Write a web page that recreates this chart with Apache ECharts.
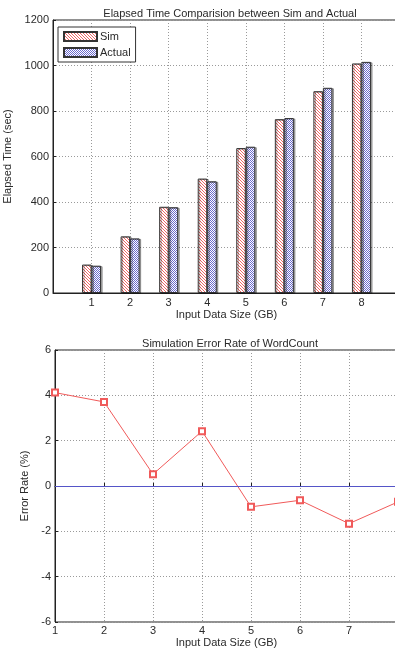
<!DOCTYPE html>
<html>
<head>
<meta charset="utf-8">
<script src="https://cdn.jsdelivr.net/npm/echarts@6/dist/echarts.min.js"></script>
<style>
  html, body { margin: 0; padding: 0; background: #fff; }
  #chart { width: 395px; height: 652px; }
</style>
</head>
<body>
<div id="chart"></div>
<script>
// Input sizes (GB) and measured times
const sizes = [1, 2, 3, 4, 5, 6, 7, 8];
const simTime = [125, 249, 379, 503, 637, 764, 887, 1009];
const actualTime = [120, 240, 377, 491, 643, 769, 902, 1016];
const errorRate = [4.12, 3.71, 0.52, 2.42, -0.92, -0.63, -1.66, -0.70];
const timeTicks = [0, 200, 400, 600, 800, 1000, 1200];
const errorTicks = [-6, -4, -2, 0, 2, 4, 6];

// Hatch fills for the bars
function hatchPattern() {
  const c = document.createElement('canvas');
  c.width = 3; c.height = 3;
  const g = c.getContext('2d');
  g.fillStyle = '#ffffff'; g.fillRect(0, 0, 3, 3);
  g.fillStyle = '#f06464';
  for (let i = 0; i < 3; i++) { g.fillRect(i, i, 1, 1); }
  return c;
}
function checkPattern() {
  const c = document.createElement('canvas');
  c.width = 2; c.height = 2;
  const g = c.getContext('2d');
  g.fillStyle = '#ffffff'; g.fillRect(0, 0, 2, 2);
  g.fillStyle = '#6a6acc';
  g.fillRect(0, 0, 1, 1); g.fillRect(1, 1, 1, 1);
  return c;
}

const FONT = 'Liberation Sans';
const TXT = '#2a2a2a';
const dotted = { color: '#9a9a9a', type: [1, 2], width: 1 };
const plain = v => String(v);

const chart = echarts.init(document.getElementById('chart'), null, { renderer: 'canvas' });

chart.setOption({
  animation: false,
  textStyle: { fontFamily: FONT, color: TXT },
  title: [
    { text: 'Elapsed Time Comparision between Sim and Actual', left: 225, top: 3, textAlign: 'center',
      textStyle: { fontSize: 11, fontWeight: 'normal', color: TXT, fontFamily: FONT } },
    { text: 'Simulation Error Rate of WordCount', left: 225, top: 333, textAlign: 'center',
      textStyle: { fontSize: 11, fontWeight: 'normal', color: TXT, fontFamily: FONT } }
  ],
  legend: {
    data: ['Sim', 'Actual'],
    orient: 'vertical',
    left: 58, top: 27,
    icon: 'rect',
    itemWidth: 33, itemHeight: 9, itemGap: 5,
    padding: [4, 5, 4, 5],
    backgroundColor: '#fff',
    borderColor: '#333', borderWidth: 1,
    textStyle: { fontSize: 11, color: TXT, fontFamily: FONT, padding: [0, 0, 0, -2] }
  },
  grid: [
    { left: 53, top: 20, width: 347, height: 273, outerBoundsMode: 'none', containLabel: false,
      show: true, borderColor: '#222', borderWidth: 1 },
    { left: 55, top: 350, width: 343, height: 272, outerBoundsMode: 'none', containLabel: false,
      show: true, borderColor: '#222', borderWidth: 1 }
  ],
  xAxis: [
    {
      gridIndex: 0, type: 'value', min: 0, max: 9, interval: 1,
      name: 'Input Data Size (GB)', nameLocation: 'middle', nameGap: 16,
      nameTextStyle: { fontSize: 11, color: TXT },
      axisLine: { lineStyle: { color: '#222' } },
      axisTick: { inside: true, length: 3, lineStyle: { color: '#222' } },
      axisLabel: { fontSize: 11, color: TXT, margin: 4,
        formatter: v => (sizes.indexOf(v) >= 0 ? String(v) : '') },
      splitLine: { show: true, lineStyle: dotted }
    },
    {
      gridIndex: 1, type: 'value', min: 1, max: 8, interval: 1,
      name: 'Input Data Size (GB)', nameLocation: 'middle', nameGap: 15,
      nameTextStyle: { fontSize: 11, color: TXT },
      axisLine: { lineStyle: { color: '#222' } },
      axisTick: { inside: true, length: 3, lineStyle: { color: '#222' } },
      axisLabel: { fontSize: 11, color: TXT, margin: 3, showMaxLabel: false, formatter: plain },
      splitLine: { show: true, lineStyle: dotted }
    }
  ],
  yAxis: [
    {
      gridIndex: 0, type: 'value', min: timeTicks[0], max: timeTicks[timeTicks.length - 1], interval: 200,
      name: 'Elapsed Time (sec)', nameLocation: 'middle', nameGap: 31,
      nameTextStyle: { fontSize: 11, color: TXT },
      axisLine: { show: true, lineStyle: { color: '#222' } },
      axisTick: { show: true, inside: true, length: 3, lineStyle: { color: '#222' } },
      axisLabel: { fontSize: 11, color: TXT, margin: 4, formatter: plain },
      splitLine: { show: true, lineStyle: dotted }
    },
    {
      gridIndex: 1, type: 'value', min: errorTicks[0], max: errorTicks[errorTicks.length - 1], interval: 2,
      name: 'Error Rate (%)', nameLocation: 'middle', nameGap: 17,
      nameTextStyle: { fontSize: 11, color: TXT },
      axisLine: { show: true, lineStyle: { color: '#222' } },
      axisTick: { show: true, inside: true, length: 3, lineStyle: { color: '#222' } },
      axisLabel: { fontSize: 11, color: TXT, margin: 4, formatter: plain },
      splitLine: { show: true, lineStyle: dotted }
    }
  ],
  series: [
    {
      name: 'Sim', type: 'bar', xAxisIndex: 0, yAxisIndex: 0,
      barWidth: 9.5, barGap: '0%',
      data: sizes.map((s, i) => [s, simTime[i]]),
      itemStyle: {
        color: { image: hatchPattern(), repeat: 'repeat' },
        borderColor: '#333', borderWidth: 1,
        shadowColor: 'rgba(0,0,0,0.35)', shadowOffsetX: 1.5, shadowOffsetY: 0.5, shadowBlur: 0
      }
    },
    {
      name: 'Actual', type: 'bar', xAxisIndex: 0, yAxisIndex: 0,
      barWidth: 9.5, barGap: '0%',
      data: sizes.map((s, i) => [s, actualTime[i]]),
      itemStyle: {
        color: { image: checkPattern(), repeat: 'repeat' },
        borderColor: '#333', borderWidth: 1,
        shadowColor: 'rgba(0,0,0,0.35)', shadowOffsetX: 1.5, shadowOffsetY: 0.5, shadowBlur: 0
      }
    },
    {
      name: 'Error', type: 'line', xAxisIndex: 1, yAxisIndex: 1,
      data: sizes.map((s, i) => [s, errorRate[i]]),
      symbol: 'emptyRect', symbolSize: 6,
      lineStyle: { color: '#f05a5a', width: 1 },
      itemStyle: { color: '#f05a5a', borderColor: '#f05a5a', borderWidth: 1 },
      markLine: {
        silent: true, symbol: 'none', label: { show: false },
        lineStyle: { color: '#5555c8', type: 'solid', width: 1 },
        data: [{ yAxis: 0 }]
      },
      z: 3
    }
  ]
});
</script>
</body>
</html>
